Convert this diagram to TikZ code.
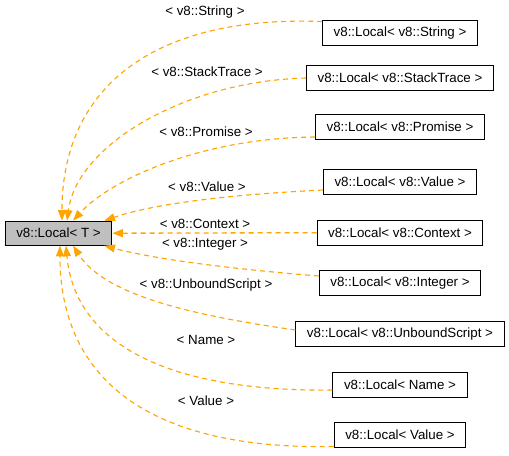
\documentclass[tikz,border=0pt]{standalone}
\usepackage{fontspec}
\setmainfont{Liberation Sans}
\usetikzlibrary{arrows.meta}
\definecolor{edgeorange}{HTML}{FFA500}
\definecolor{basegray}{HTML}{BFBFBF}

\begin{document}
\begin{tikzpicture}[x=0.75pt,y=-0.75pt,>={Triangle[length=8pt,width=6pt]},
	font=\fontsize{10}{12}\selectfont,
	cls/.style={draw=black,line width=0.75pt,inner xsep=8.3pt,inner ysep=0pt,minimum height=18.5pt},
	base/.style={cls,fill=basegray,minimum height=18pt},
	inherit/.style={->,draw=edgeorange,fill=none,line width=0.85pt,dash pattern=on 3.75pt off 3pt},
	lbl/.style={inner sep=0pt}]
	\useasboundingbox (0,0) rectangle (509,455);

	\node[base] (LocT)      at (58.5,233.2) {v8::Local< T >};
	\node[cls]  (LString)   at (400,33)   {v8::Local< v8::String >};
	\node[cls]  (LStack)    at (400,78)   {v8::Local< v8::StackTrace >};
	\node[cls]  (LPromise)  at (400,127)  {v8::Local< v8::Promise >};
	\node[cls]  (LValue)    at (400,182)  {v8::Local< v8::Value >};
	\node[cls]  (LContext)  at (400,233.2) {v8::Local< v8::Context >};
	\node[cls]  (LInteger)  at (400,283)  {v8::Local< v8::Integer >};
	\node[cls]  (LUnbound)  at (400,334)  {v8::Local< v8::UnboundScript >};
	\node[cls]  (LName)     at (400,385)  {v8::Local< Name >};
	\node[cls]  (LValueT)   at (400,435)  {v8::Local< Value >};

	% template arguments
	\node[lbl] (aString)  at (205,12)  {< v8::String >};
	\node[lbl] (aStack)   at (207,72)  {< v8::StackTrace >};
	\node[lbl] (aPromise) at (206,132) {< v8::Promise >};
	\node[lbl] (aValue)   at (207,187) {< v8::Value >};
	\node[lbl] (aContext) at (205,224) {< v8::Context >};
	\node[lbl] (aInteger) at (205,244) {< v8::Integer >};
	\node[lbl] (aUnbound) at (206,285) {< v8::UnboundScript >};
	\node[lbl] (aName)    at (206,340) {< Name >};
	\node[lbl] (aValueT)  at (206,401) {< Value >};

	\draw [inherit] ([yshift=-1pt]LString.north west) .. controls (150,15) and (62,90) .. ([xshift=2.6pt]LocT.north);
	\draw [inherit] (LStack.west) .. controls (185,81) and (77,145) .. ([xshift=6.4pt]LocT.north);
	\draw [inherit] ([yshift=-7.5pt]LPromise.west) .. controls (200,138) and (110,180) .. ([xshift=10.9pt]LocT.north);
	\draw [inherit] ([yshift=-6pt]LValue.west) .. controls (220,195) and (150,205) .. ([xshift=-6pt]LocT.north east);
	\draw [inherit,line width=1pt] ([yshift=0.4pt]LContext.west) -- (LocT.east);
	\draw [inherit] ([yshift=5.25pt]LInteger.west) .. controls (220,268) and (150,258) .. ([xshift=-6pt]LocT.south east);
	\draw [inherit] ([yshift=3pt]LUnbound.west) .. controls (190,315) and (105,295) .. ([xshift=10.9pt]LocT.south);
	\draw [inherit] ([yshift=-3.75pt]LName.west) .. controls (170,392) and (75,345) .. ([xshift=5.6pt]LocT.south);
	\draw [inherit] ([yshift=1pt]LValueT.south west) .. controls (150,450) and (60,380) .. ([xshift=1.1pt]LocT.south);
\end{tikzpicture}
\end{document}
